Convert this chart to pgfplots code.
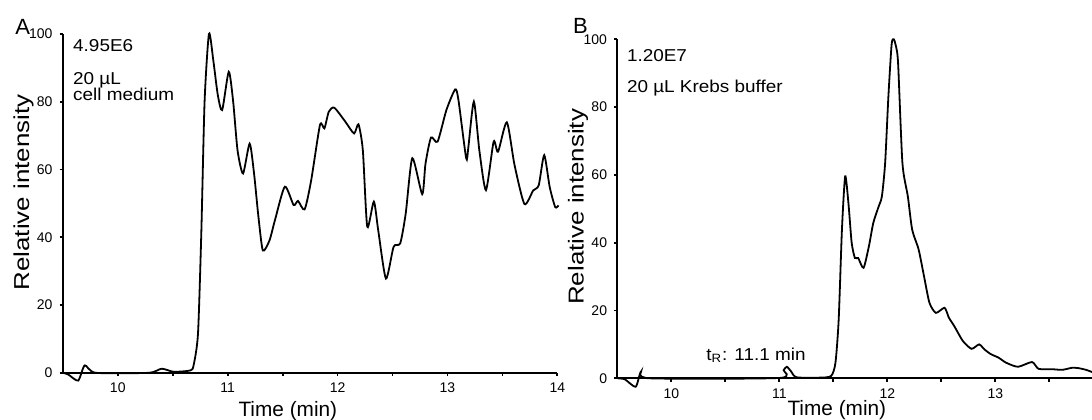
\documentclass[border=0pt]{standalone}
\usepackage{fontspec}
\setmainfont{Liberation Sans}
\newfontfamily\annfont[FakeStretch=1.1]{Liberation Sans}
\newfontfamily\ylabfont[FakeStretch=1.2]{Liberation Sans}
\usepackage{pgfplots}
\pgfplotsset{compat=1.18}

\pgfplotsset{
  chrom/.style={
    scale only axis,
    axis lines*=left,
    clip=false,
    ymin=0, ymax=100,
    ytick={0,20,...,100},
    xmin=9.5,
    minor xtick={10.5,11.5,12.5,13.5},
    tick align=outside,
    major tick length=1.6pt,
    minor tick length=1.6pt,
    axis line style={line width=0.9pt, black},
    tick style={line width=0.9pt, black},
    tick label style={font=\fontsize{7}{8}\selectfont},
    /pgf/number format/assume math mode=true,
    xlabel={Time (min)},
    ylabel={Relative intensity},
    xlabel style={font=\fontsize{10.4}{12}\selectfont, anchor=base},
    ylabel style={font=\ylabfont\fontsize{10.8}{12}\selectfont, anchor=base, rotate=0},
  },
  trace/.style={black, line width=0.9pt, smooth, tension=0.4, mark=none},
}
\newcommand{\ann}{\annfont\fontsize{8.6}{10}\selectfont}

\begin{document}
\begin{tikzpicture}
\useasboundingbox (0,0) rectangle (546pt,209.5pt);

% panel A: cell medium
\begin{axis}[chrom,
  at={(31.4pt,23.1pt)}, anchor=south west,
  width=247.3pt, height=169.5pt,
  xmax=14, xtick={10,11,12,13,14},
  xlabel style={at={(axis description cs:0.455,-0.1275)}},
  ylabel style={at={(axis description cs:-0.068,0.532)}},
]
\addplot[trace] coordinates {
  (9.5,0) (9.55,-0.5) (9.64,-2.3) (9.70,2.2) (9.80,0) (10.28,0) (10.40,1.2)
  (10.51,0.3) (10.66,0.7) (10.69,2.2) (10.73,11.5) (10.76,41) (10.79,80)
  (10.83,100) (10.87,92) (10.91,82) (10.95,77.5) (11.01,88.8) (11.05,80)
  (11.09,65.6) (11.14,58.8) (11.20,67.6) (11.24,58.8) (11.28,46) (11.32,36.1)
  (11.38,39) (11.43,45) (11.52,54.9) (11.60,49.5) (11.64,50.7) (11.70,48.2)
  (11.76,56.8) (11.84,73.1) (11.88,72.1) (11.92,77) (11.97,78.2) (12.07,74.1)
  (12.15,70.6) (12.19,73.3) (12.23,65.6) (12.27,43.1) (12.33,50.5) (12.37,42)
  (12.44,27.8) (12.51,37.2) (12.57,38.2) (12.62,47) (12.68,63.3) (12.77,52.7)
  (12.80,61.7) (12.85,69.4) (12.91,68.2) (12.99,77.5) (13.07,83.6) (13.10,80.4)
  (13.17,63.3) (13.19,66.6) (13.24,80) (13.29,65.6) (13.35,53.9) (13.42,68.2)
  (13.46,65.2) (13.54,73.9) (13.61,61.3) (13.70,49.8) (13.78,53.8) (13.83,55.3)
  (13.88,64.2) (13.93,54.8) (13.98,48.9) (14.01,49.4)
};
\end{axis}

% panel B: Krebs buffer
\begin{axis}[chrom,
  at={(308.65pt,20.35pt)}, anchor=south west,
  width=237.6pt, height=169.5pt,
  xmax=13.9, xtick={10,11,12,13},
  xlabel style={at={(axis description cs:0.462,-0.110)}},
  ylabel style={at={(axis description cs:-0.0707,0.506)}},
]
\addplot[trace] coordinates {
  (9.5,0) (9.57,-0.3) (9.67,-2.5) (9.72,2.0) (9.80,0) (11.0,0.1) (11.04,2.4)
  (11.07,3.4) (11.11,2) (11.16,0.3) (11.375,0.2) (11.48,0.7) (11.52,4.6)
  (11.55,17.4) (11.58,43.9) (11.61,59.6) (11.64,51.7) (11.67,40) (11.70,35.5)
  (11.73,35.5) (11.78,32.6) (11.83,39) (11.87,45.8) (11.92,50.7) (11.95,53.7)
  (11.98,63.5) (12.01,83.1) (12.04,98.5) (12.06,100) (12.08,98) (12.10,92.9)
  (12.14,63.5) (12.19,53.7) (12.23,43.9) (12.29,38) (12.34,30.1) (12.39,22.3)
  (12.45,19.3) (12.53,20.8) (12.57,17.9) (12.62,15.4) (12.70,11) (12.78,8.7)
  (12.85,10) (12.90,8.5) (12.96,7.1) (13.03,6.1) (13.10,4.6) (13.21,3.4)
  (13.34,4.8) (13.40,2.8) (13.52,2.7) (13.62,2.5) (13.71,3.1) (13.77,3)
  (13.84,2.5) (13.90,1.8)
};
\end{axis}

% panel letters and annotations
\node[anchor=base west, inner sep=0pt, font=\fontsize{11}{13}\selectfont] at (7.5pt,192.4pt) {A};
\node[anchor=base west, inner sep=0pt, font=\ann] at (36.4pt,183.7pt) {4.95E6};
\node[anchor=base west, inner sep=0pt, font=\ann] at (36.4pt,167.4pt) {20 µL};
\node[anchor=base west, inner sep=0pt, font=\ann] at (36.4pt,159.5pt) {cell medium};
\node[anchor=base west, inner sep=0pt, font=\fontsize{11}{13}\selectfont] at (286.4pt,192.9pt) {B};
\node[anchor=base west, inner sep=0pt, font=\ann] at (313.3pt,178.7pt) {1.20E7};
\node[anchor=base west, inner sep=0pt, font=\ann] at (313.3pt,163.2pt) {20 µL Krebs buffer};
\node[anchor=base west, inner sep=0pt, font=\ann] at (353pt,29.5pt) {t\textsubscript{R}: 11.1 min};
\end{tikzpicture}
\end{document}
